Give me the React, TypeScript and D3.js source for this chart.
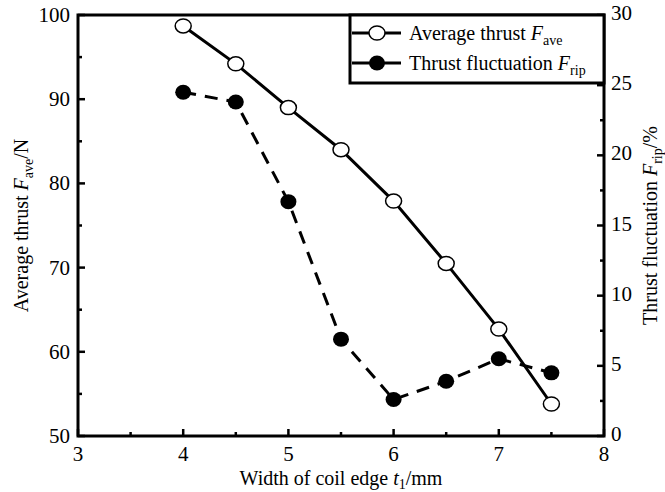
import * as React from 'react';
import * as d3 from 'd3';

const widths = [4, 4.5, 5, 5.5, 6, 6.5, 7, 7.5];
const avgThrust = [98.7, 94.2, 89.0, 84.0, 77.9, 70.5, 62.7, 53.8];
const thrustRipple = [24.5, 23.8, 16.7, 6.9, 2.6, 3.9, 5.5, 4.5];

const xTicks = [3, 4, 5, 6, 7, 8];
const xMinor = [3.5, 4.5, 5.5, 6.5, 7.5];
const leftTicks = [50, 60, 70, 80, 90, 100];
const leftMinor = [55, 65, 75, 85, 95];
const rightTicks = [0, 5, 10, 15, 20, 25, 30];
const rightMinor = [2.5, 7.5, 12.5, 17.5, 22.5, 27.5];

const W = 665;
const H = 492;
const m = { left: 78, right: 604, top: 15, bottom: 436 };
const font = '"Liberation Serif", "Times New Roman", serif';

export default function App() {
	const x = d3.scaleLinear().domain([3, 8]).range([m.left, m.right]);
	const yL = d3.scaleLinear().domain([50, 100]).range([m.bottom, m.top]);
	const yR = d3.scaleLinear().domain([0, 30]).range([m.bottom, m.top]);

	const avgLine = d3
		.line<number>()
		.x((_, i) => x(widths[i]))
		.y(d => yL(d));
	const ripLine = d3
		.line<number>()
		.x((_, i) => x(widths[i]))
		.y(d => yR(d));

	const major = 7;
	const minor = 4;

	return (
		<svg
			width={W}
			height={H}
			style={{ position: 'absolute', left: 0, top: 0, background: '#fff' }}
			fontFamily={font}
		>
			{/* data lines */}
			<path d={avgLine(avgThrust)} fill='none' stroke='#000' strokeWidth={3} />
			<path d={ripLine(thrustRipple)} fill='none' stroke='#000' strokeWidth={3} strokeDasharray='13 9' />
			{avgThrust.map((v, i) => (
				<ellipse key={'a' + i} cx={x(widths[i])} cy={yL(v)} rx={8} ry={7} fill='#fff' stroke='#000' strokeWidth={1.5} />
			))}
			{thrustRipple.map((v, i) => (
				<ellipse key={'r' + i} cx={x(widths[i])} cy={yR(v)} rx={8} ry={7.5} fill='#000' />
			))}

			{/* frame */}
			<rect x={m.left} y={m.top} width={m.right - m.left} height={m.bottom - m.top} fill='none' stroke='#000' strokeWidth={3} />

			{/* bottom ticks */}
			{xTicks.map(t => (
				<g key={'xt' + t}>
					<line x1={x(t)} x2={x(t)} y1={m.bottom} y2={m.bottom - major} stroke='#000' strokeWidth={2.5} />
					<text x={x(t)} y={461} fontSize={21} textAnchor='middle'>
						{t}
					</text>
				</g>
			))}
			{xMinor.map(t => (
				<line key={'xm' + t} x1={x(t)} x2={x(t)} y1={m.bottom} y2={m.bottom - minor} stroke='#000' strokeWidth={2.5} />
			))}

			{/* left ticks */}
			{leftTicks.map(t => (
				<g key={'lt' + t}>
					<line x1={m.left} x2={m.left + major} y1={yL(t)} y2={yL(t)} stroke='#000' strokeWidth={2.5} />
					<text x={70} y={yL(t)} fontSize={21} textAnchor='end' dominantBaseline='central'>
						{t}
					</text>
				</g>
			))}
			{leftMinor.map(t => (
				<line key={'lm' + t} x1={m.left} x2={m.left + minor} y1={yL(t)} y2={yL(t)} stroke='#000' strokeWidth={2.5} />
			))}

			{/* right ticks */}
			{rightTicks.map(t => (
				<g key={'rt' + t}>
					<line x1={m.right} x2={m.right - major} y1={yR(t)} y2={yR(t)} stroke='#000' strokeWidth={2.5} />
					<text x={611} y={yR(t) - 2} fontSize={21} textAnchor='start' dominantBaseline='central'>
						{t}
					</text>
				</g>
			))}
			{rightMinor.map(t => (
				<line key={'rm' + t} x1={m.right} x2={m.right - minor} y1={yR(t)} y2={yR(t)} stroke='#000' strokeWidth={2.5} />
			))}

			{/* axis titles */}
			<text x={(m.left + m.right) / 2} y={485} fontSize={20} textAnchor='middle'>
				Width of coil edge <tspan fontStyle='italic'>t</tspan>
				<tspan fontSize={14} dy={4}>1</tspan>
				<tspan dy={-4}>/mm</tspan>
			</text>
			<text transform={`translate(28 ${(m.top + m.bottom) / 2}) rotate(-90)`} fontSize={20} textAnchor='middle'>
				Average thrust <tspan fontStyle='italic'>F</tspan>
				<tspan fontSize={14} dy={5}>ave</tspan>
				<tspan dy={-5}>/N</tspan>
			</text>
			<text transform={`translate(657 ${(m.top + m.bottom) / 2}) rotate(-90)`} fontSize={20} textAnchor='middle'>
				Thrust fluctuation <tspan fontStyle='italic'>F</tspan>
				<tspan fontSize={14} dy={5}>rip</tspan>
				<tspan dy={-5}>/%</tspan>
			</text>

			{/* legend */}
			<rect x={350} y={15} width={m.right - 350} height={68} fill='#fff' stroke='#000' strokeWidth={3} />
			<line x1={352} x2={401} y1={33} y2={33} stroke='#000' strokeWidth={3} />
			<ellipse cx={377} cy={33} rx={8} ry={7} fill='#fff' stroke='#000' strokeWidth={1.5} />
			<text x={409} y={40} fontSize={20}>
				Average thrust <tspan fontStyle='italic'>F</tspan>
				<tspan fontSize={14} dy={5}>ave</tspan>
			</text>
			<line x1={352} x2={401} y1={63} y2={63} stroke='#000' strokeWidth={3} />
			<ellipse cx={377} cy={63} rx={8} ry={7.5} fill='#000' />
			<text x={409} y={70} fontSize={20}>
				Thrust fluctuation <tspan fontStyle='italic'>F</tspan>
				<tspan fontSize={14} dy={5}>rip</tspan>
			</text>
		</svg>
	);
}
